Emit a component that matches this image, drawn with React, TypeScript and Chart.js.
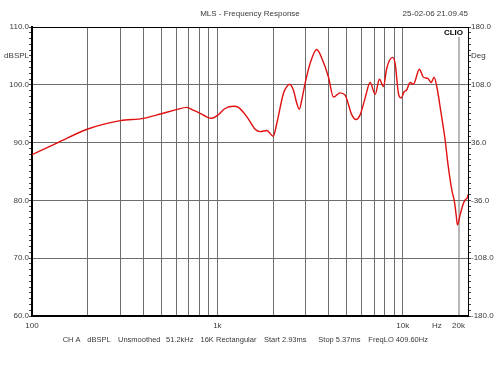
import React, { useEffect, useRef } from "react";
import { Chart, registerables } from "chart.js";

Chart.register(...registerables);

// ---- data ----
const freqs = [100,138,200,300,400,500,600,684,742,807,870,930,1000,1100,1220,1300,1441,1600,1700,1850,2000,2092,2271,2370,2446,2571,2682,2770,2855,2974,3164,3439,3659,3972,4227,4594,4889,5313,5604,5890,6268,6670,7100,7487,7870,8208,8800,9100,9480,9800,10180,10500,10960,11420,12300,12930,13660,14230,14770,15390,16060,16940,17520,18400,19010,19420,19740,20400,21100,21720,22350,22500];
const spl = [87.9,90.0,92.35,93.8,94.2,95.0,95.7,96.1,95.6,95.05,94.5,94.2,94.7,95.9,96.3,96.1,94.5,92.3,91.9,92.1,91.1,93.3,98.5,99.7,100.1,99.1,96.8,95.75,97.4,100.26,103.7,106.1,104.6,101.4,97.9,98.6,98.2,94.8,94.0,94.8,97.7,100.4,98.35,100.95,99.7,102.9,104.75,103.7,98.5,97.7,98.8,99.1,100.4,100.1,102.7,101.3,101.1,100.4,101.3,99.1,95.35,90.45,86.4,81.8,79.8,77.5,75.75,77.5,79.2,80.1,80.5,81.0];

const xTickValues = [100,200,300,400,500,600,700,800,900,1000,2000,3000,4000,5000,6000,7000,8000,9000,10000,15300,20000];
const xTickLabels: Record<number, string> = { 100: "100", 1000: "1k", 10000: "10k", 15300: "Hz", 20000: "20k" };

const yMin = 60, yMax = 110;
const y2Min = -25, y2Max = 25; // units of 7.2 deg
const degPerUnit = 7.2;

const titleText = "MLS - Frequency Response";
const dateText = "25-02-06 21.09.45";
const brandText = "CLIO";
const infoItems = ["CH A", "dBSPL", "Unsmoothed", "51.2kHz", "16K", "Rectangular", "Start 2.93ms", "Stop 5.37ms", "FreqLO 409.60Hz"];
const infoX = [62.7, 87.3, 118, 166, 200.5, 216, 264, 318.3, 368.3];

const FONT = "'Liberation Sans', Arial, sans-serif";
const TEXT = "#3a3a3a";

const decorPlugin = {
  id: "decor",
  afterDraw(chart: any) {
    const { ctx, chartArea } = chart;
    ctx.save();
    ctx.fillStyle = TEXT;
    ctx.font = `8px ${FONT}`;
    ctx.textBaseline = "middle";
    ctx.textAlign = "center";
    ctx.fillText(titleText, (chartArea.left + chartArea.right) / 2, 14);
    ctx.textAlign = "right";
    ctx.fillText(dateText, chartArea.right, 14);
    ctx.textAlign = "left";
    ctx.font = `7.5px ${FONT}`;
    infoItems.forEach((t, i) => ctx.fillText(t, infoX[i], 339.5));
    // brand
    ctx.font = `bold 8px ${FONT}`;
    const w = ctx.measureText(brandText).width;
    const bx = chartArea.right - 5 - w;
    ctx.fillStyle = "#ffffff";
    ctx.fillRect(bx - 2, chartArea.top + 1, w + 4, 9);
    ctx.fillStyle = "#000000";
    ctx.fillText(brandText, bx, chartArea.top + 5.5);
    ctx.restore();
  },
};

export default function App() {
  const ref = useRef<HTMLCanvasElement>(null);
  useEffect(() => {
    if (!ref.current) return;
    const chart = new Chart(ref.current, {
      type: "line",
      data: {
        datasets: [
          {
            data: freqs.map((f, i) => ({ x: f, y: spl[i] })),
            borderColor: "#e01010",
            borderWidth: 1.4,
            pointRadius: 0,
            cubicInterpolationMode: "monotone",
            fill: false,
            yAxisID: "y",
          },
        ],
      },
      plugins: [decorPlugin],
      options: {
        responsive: false,
        animation: false,
        events: [],
        layout: { padding: { top: 27, left: 0, right: 0, bottom: 0 } },
        plugins: { legend: { display: false }, tooltip: { enabled: false }, title: { display: false } },
        scales: {
          x: {
            type: "logarithmic",
            position: "bottom",
            min: 100,
            max: 22500,
            afterBuildTicks: (scale: any) => {
              scale.ticks = xTickValues.map((v) => ({ value: v }));
            },
            afterFit: (scale: any) => {
              scale.height = 59;
            },
            ticks: {
              autoSkip: false,
              maxRotation: 0,
              minRotation: 0,
              padding: 5,
              color: TEXT,
              font: { family: FONT, size: 8 },
              callback: (v: any) => xTickLabels[Number(v)] ?? "",
            },
            grid: {
              drawTicks: false,
              color: (c: any) => {
                const v = c.tick?.value;
                if (v === 100 || v === 15300) return "rgba(0,0,0,0)";
                if (v === 20000) return "#b8b8b8";
                return "#6e6e6e";
              },
              lineWidth: (c: any) => (c.tick?.value === 20000 ? 2 : 1),
            },
            border: { display: true, color: "#000", width: 2 },
          },
          y: {
            type: "linear",
            position: "left",
            min: yMin,
            max: yMax,
            afterFit: (scale: any) => {
              scale.width = 32;
            },
            ticks: {
              stepSize: 1,
              autoSkip: false,
              padding: 0,
              color: TEXT,
              font: { family: FONT, size: 8 },
              callback: (v: any) => {
                const n = Number(v);
                if (n === 105) return "dBSPL";
                return n % 10 === 0 ? n.toFixed(1) : "";
              },
            },
            grid: {
              drawTicks: true,
              tickLength: 3,
              tickColor: "#444",
              color: (c: any) => {
                const v = c.tick?.value;
                if (v === yMax) return "#000";
                if (v % 10 === 0 && v > yMin) return "#6e6e6e";
                return "rgba(0,0,0,0)";
              },
            },
            border: { display: true, color: "#000", width: 2 },
          },
          y2: {
            type: "linear",
            position: "right",
            min: y2Min,
            max: y2Max,
            afterFit: (scale: any) => {
              scale.width = 32;
            },
            ticks: {
              stepSize: 1,
              autoSkip: false,
              padding: 0,
              color: TEXT,
              font: { family: FONT, size: 8 },
              callback: (v: any) => {
                const n = Number(v);
                if (n === 20) return "Deg";
                return Math.abs(n % 10) === 5 ? (n * degPerUnit).toFixed(1) : "";
              },
            },
            grid: { drawOnChartArea: false, drawTicks: true, tickLength: 3, tickColor: "#444" },
            border: { display: true, color: "#000", width: 1 },
          },
        },
      } as any,
    });
    return () => chart.destroy();
  }, []);
  return (
    <div style={{ position: "absolute", left: 0, top: 0, width: 500, height: 375, background: "#fff" }}>
      <canvas ref={ref} width={500} height={375} style={{ display: "block" }} />
    </div>
  );
}
